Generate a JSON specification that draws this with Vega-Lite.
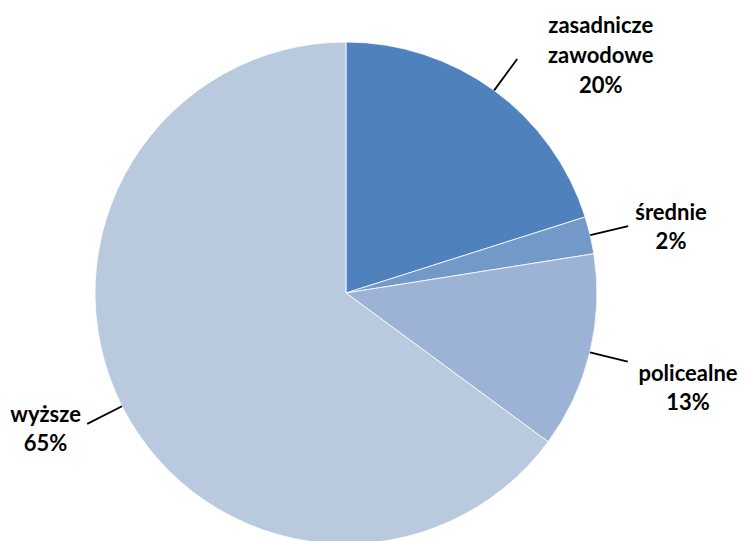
{
  "$schema": "https://vega.github.io/schema/vega-lite/v6.json",
  "width": 692,
  "height": 496,
  "autosize": {"type": "none"},
  "padding": {"left": 0, "top": 45, "right": 53, "bottom": 0},
  "background": "#ffffff",
  "config": {"view": {"stroke": null}},
  "data": {
    "values": [
      {"ord": 1, "cat": "zasadnicze zawodowe", "value": 20.1},
      {"ord": 2, "cat": "średnie", "value": 2.4},
      {"ord": 3, "cat": "policealne", "value": 12.6},
      {"ord": 4, "cat": "wyższe", "value": 64.9}
    ]
  },
  "transform": [
    {"window": [{"op": "sum", "field": "value", "as": "cum"}], "sort": [{"field": "ord"}]},
    {"calculate": "datum.cum - datum.value / 2", "as": "mid"},
    {"calculate": "replace(datum.cat, ' ', '\\n') + '\\n' + format(datum.value, '.0f') + '%'", "as": "lbl"}
  ],
  "layer": [
    {
      "mark": {"type": "arc", "radius": 251, "stroke": "#ffffff", "strokeWidth": 0.8},
      "encoding": {
        "theta": {"field": "value", "type": "quantitative", "stack": true, "scale": {"domain": [0, 100]}},
        "order": {"field": "ord", "type": "ordinal"},
        "color": {
          "field": "cat", "type": "nominal", "legend": null,
          "scale": {
            "domain": ["zasadnicze zawodowe", "średnie", "policealne", "wyższe"],
            "range": ["#4F81BD", "#7399C9", "#9DB3D5", "#B9C9DE"]
          }
        }
      }
    },
    {
      "mark": {"type": "arc", "radius": 290, "radius2": 251, "stroke": "#000000", "strokeWidth": 1.8, "fill": null},
      "encoding": {
        "theta": {"field": "mid", "type": "quantitative", "stack": null, "scale": {"domain": [0, 100]}},
        "theta2": {"field": "mid"}
      }
    },
    {
      "transform": [{"filter": "datum.ord == 2"}],
      "mark": {"type": "text", "radius": 334, "dy": -3, "font": "Lato", "fontSize": 22, "fontWeight": "bold", "lineHeight": 29, "lineBreak": "\n", "align": "center", "baseline": "middle", "color": "#000000"},
      "encoding": {
        "theta": {"field": "mid", "type": "quantitative", "stack": null, "scale": {"domain": [0, 100]}},
        "text": {"field": "lbl"}
      }
    },
    {
      "transform": [{"filter": "datum.ord == 3"}],
      "mark": {"type": "text", "radius": 352, "dy": -2, "font": "Lato", "fontSize": 22, "fontWeight": "bold", "lineHeight": 29, "lineBreak": "\n", "align": "center", "baseline": "middle", "color": "#000000"},
      "encoding": {
        "theta": {"field": "mid", "type": "quantitative", "stack": null, "scale": {"domain": [0, 100]}},
        "text": {"field": "lbl"}
      }
    },
    {
      "transform": [{"filter": "datum.ord == 4"}],
      "mark": {"type": "text", "radius": 340, "dx": 3, "dy": -31, "font": "Lato", "fontSize": 22, "fontWeight": "bold", "lineHeight": 29, "lineBreak": "\n", "align": "center", "baseline": "middle", "color": "#000000"},
      "encoding": {
        "theta": {"field": "mid", "type": "quantitative", "stack": null, "scale": {"domain": [0, 100]}},
        "text": {"field": "lbl"}
      }
    },
    {
      "transform": [{"filter": "datum.ord == 1"}],
      "mark": {"type": "text", "radius": 340, "dx": 54, "dy": 7, "font": "Lato", "fontSize": 22, "fontWeight": "bold", "lineHeight": 30, "lineBreak": "\n", "align": "center", "baseline": "middle", "color": "#000000"},
      "encoding": {
        "theta": {"field": "mid", "type": "quantitative", "stack": null, "scale": {"domain": [0, 100]}},
        "text": {"field": "lbl"}
      }
    }
  ]
}
